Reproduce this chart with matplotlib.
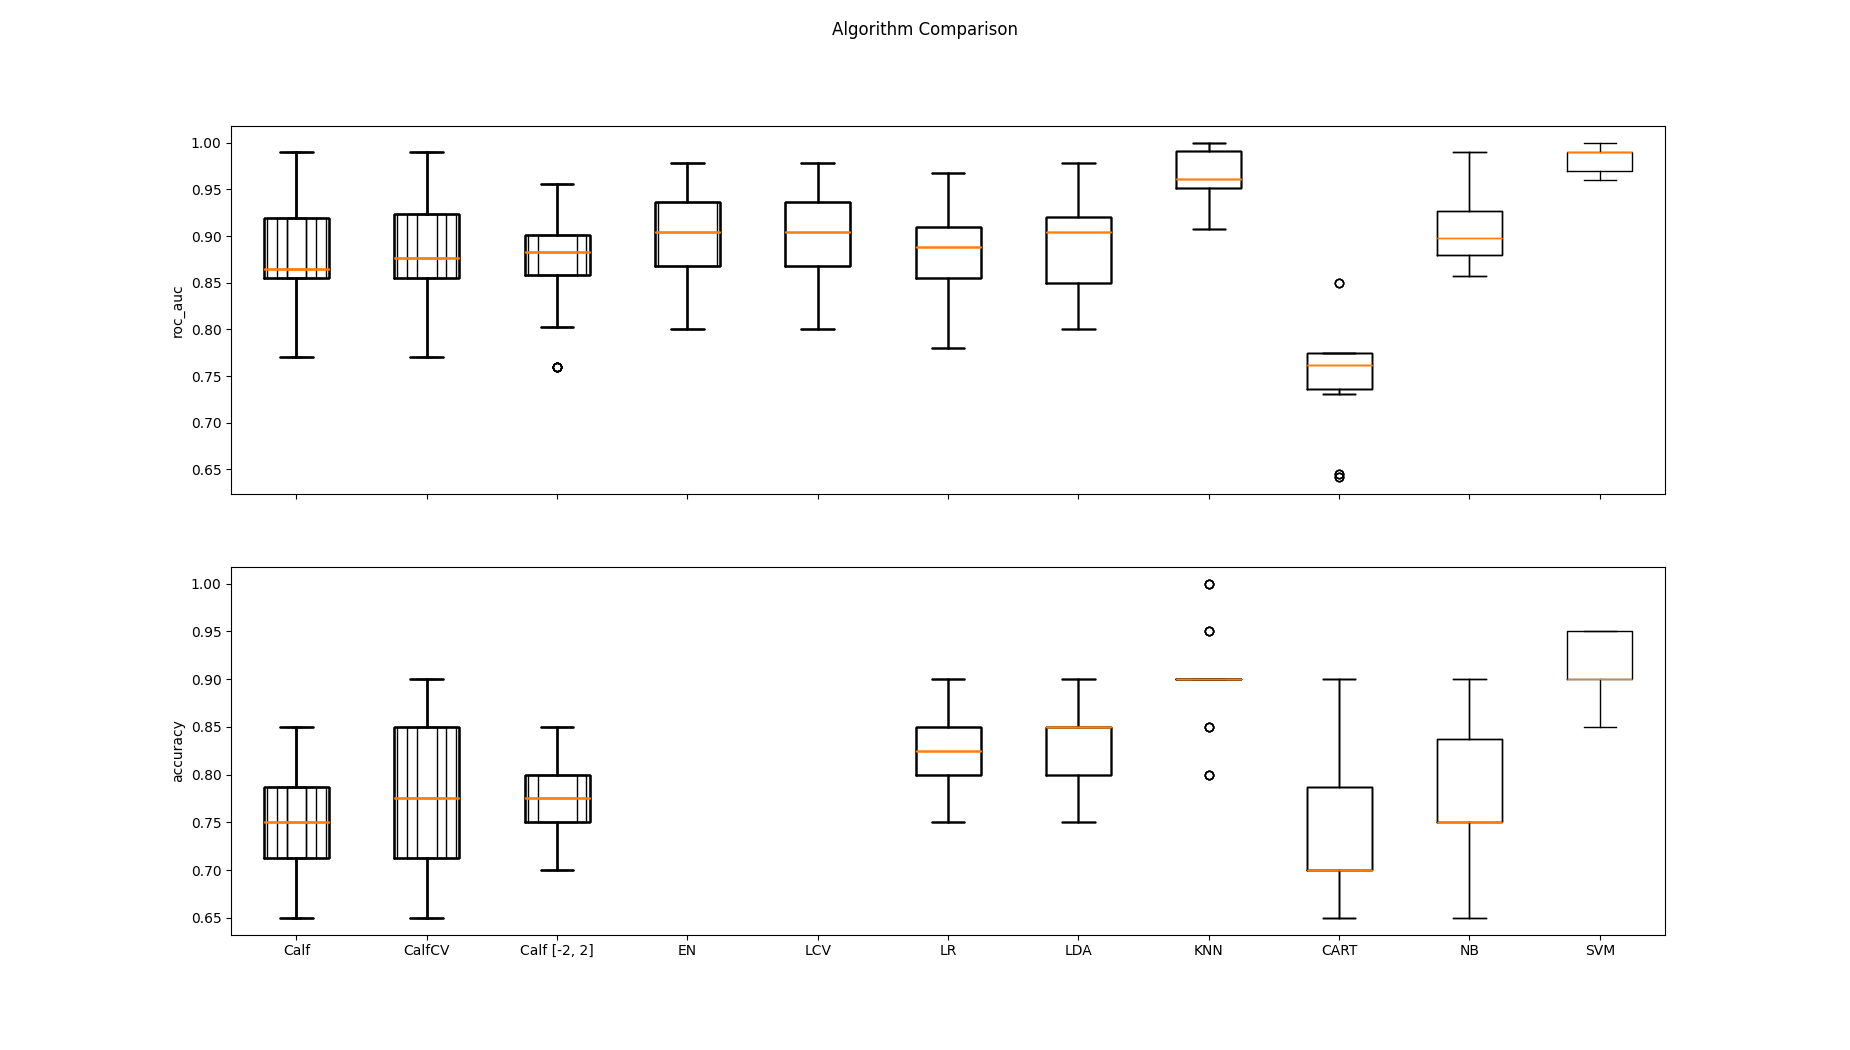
import numpy as np
import matplotlib
matplotlib.use("Agg")
import matplotlib.pyplot as plt

names = ["Calf", "CalfCV", "Calf [-2, 2]", "EN", "LCV", "LR", "LDA", "KNN", "CART", "NB", "SVM"]

# roc_auc box statistics
auc_whislo = [0.770, 0.770, 0.8025, 0.800, 0.800, 0.780, 0.800, 0.907, 0.7305, 0.8575, 0.960]
auc_q1     = [0.855, 0.855, 0.858, 0.868, 0.868, 0.8555, 0.8495, 0.9515, 0.736, 0.880, 0.970]
auc_med    = [0.8645, 0.8765, 0.883, 0.9045, 0.9045, 0.888, 0.9045, 0.9615, 0.7615, 0.898, 0.990]
auc_q3     = [0.9195, 0.924, 0.901, 0.936, 0.936, 0.910, 0.9205, 0.9915, 0.7745, 0.927, 0.990]
auc_whishi = [0.990, 0.990, 0.956, 0.9785, 0.9785, 0.968, 0.9785, 1.000, 0.7745, 0.990, 1.000]
auc_fliers = [[], [], [0.760], [], [], [], [], [], [0.850, 0.6455, 0.642], [], []]

# accuracy box statistics (EN and LCV have no accuracy scores)
acc_whislo = [0.65, 0.65, 0.70, None, None, 0.75, 0.75, 0.90, 0.65, 0.65, 0.85]
acc_q1     = [0.7125, 0.7125, 0.75, None, None, 0.80, 0.80, 0.90, 0.70, 0.75, 0.90]
acc_med    = [0.75, 0.775, 0.775, None, None, 0.825, 0.85, 0.90, 0.70, 0.75, 0.90]
acc_q3     = [0.7875, 0.85, 0.80, None, None, 0.85, 0.85, 0.90, 0.7875, 0.8375, 0.95]
acc_whishi = [0.85, 0.90, 0.85, None, None, 0.90, 0.90, 0.90, 0.90, 0.90, 0.95]
acc_fliers = [[], [], [], [], [], [], [], [1.00, 0.95, 0.85, 0.80], [], [], []]


def make_stats(lo, q1, med, q3, hi, fl):
    out = []
    for i in range(len(names)):
        if med[i] is None:
            out.append(None)
        else:
            out.append(dict(whislo=lo[i], q1=q1[i], med=med[i], q3=q3[i],
                            whishi=hi[i], fliers=fl[i]))
    return out


auc_stats = make_stats(auc_whislo, auc_q1, auc_med, auc_q3, auc_whishi, auc_fliers)
acc_stats = make_stats(acc_whislo, acc_q1, acc_med, acc_q3, acc_whishi, acc_fliers)

fig, (ax1, ax2) = plt.subplots(2, 1, sharex=True, figsize=(18.5, 10.5), dpi=100)
fig.suptitle("Algorithm Comparison")

# boxplots redrawn after each model is added (as in the original loop)
for i in range(len(names)):
    w = float(np.clip(0.15 * i, 0.15, 0.5))
    for ax, stats in ((ax1, auc_stats), (ax2, acc_stats)):
        idx = [j for j in range(i + 1) if stats[j] is not None]
        ax.bxp([stats[j] for j in idx], positions=[j + 1 for j in idx],
               widths=[w] * len(idx))

ax1.set_ylabel("roc_auc")
ax2.set_ylabel("accuracy")
ax2.set_xticks(range(1, len(names) + 1), labels=names)
ax1.tick_params(labelbottom=False)

fig.savefig("out.png")
